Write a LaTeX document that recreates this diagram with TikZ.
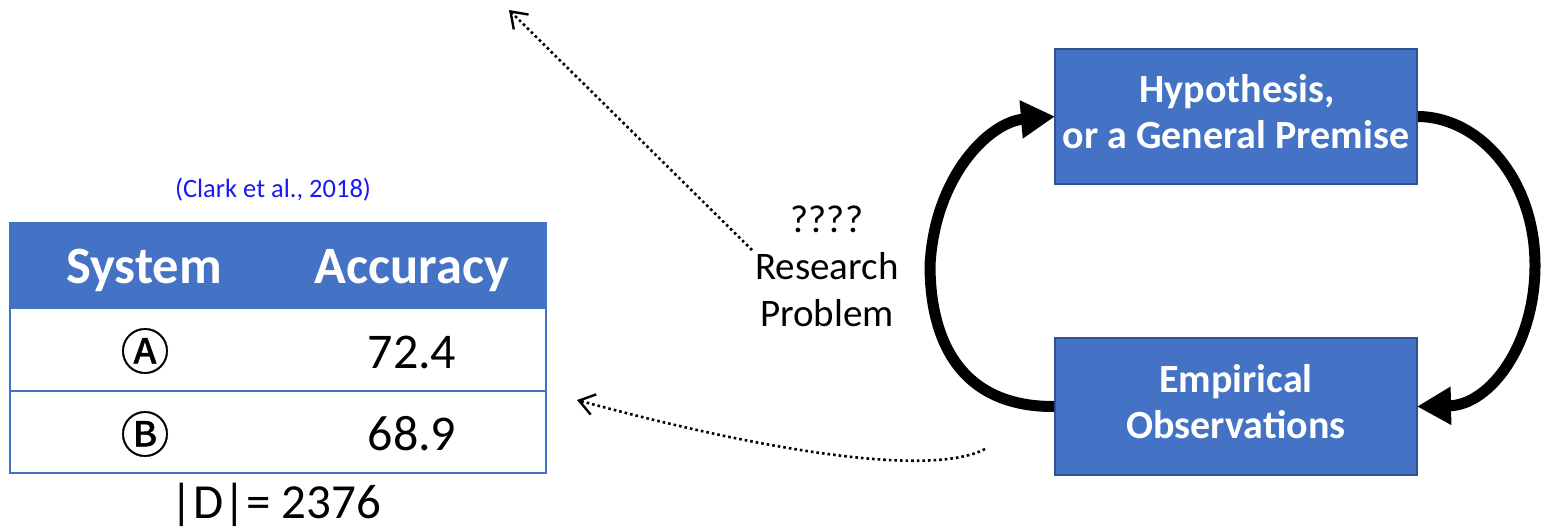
\documentclass[tikz,border=0pt]{standalone}
\usepackage{fontspec}
\setmainfont{Carlito}
\newfontfamily\circledfont{Noto Sans CJK SC}[FakeBold=0.8]
\usetikzlibrary{arrows.meta}
\definecolor{boxblue}{HTML}{4472C4}
\definecolor{boxedge}{HTML}{2F528F}
\definecolor{citeblue}{HTML}{1A1AF0}

\begin{document}
\begin{tikzpicture}[x=1pt,y=-1pt,
  every node/.style={inner sep=0pt, outer sep=0pt},
  stepbox/.style={draw=boxedge, line width=1.5pt, fill=boxblue,
    minimum width=362pt},
  boxtext/.style={text=white, font=\fontsize{40}{46}\selectfont\bfseries, anchor=base},
  cell/.style={draw=boxblue, line width=1.5pt, minimum width=536pt},
  headcell/.style={cell, fill=boxblue},
  headtext/.style={text=white, font=\fontsize{52.5}{60}\selectfont\bfseries, anchor=base},
  numtext/.style={font=\fontsize{50}{60}\selectfont, anchor=base},
  markertext/.style={font=\circledfont\fontsize{49}{54}\selectfont},
  plaintext/.style={font=\fontsize{39}{47}\selectfont, anchor=base},
  cycle/.style={line width=11pt, -{Triangle[length=34pt,width=36pt]}},
  hint/.style={line width=2.6pt, dash pattern=on 2.6pt off 3pt,
    -{Straight Barb[length=15pt,width=21pt,line width=2.4pt]}}
]
\useasboundingbox (0,0) rectangle (1541,530);

% ---- results table ----
\node[cell, minimum height=83pt] (row1) at (278,349.5) {};
\node[cell, minimum height=82pt] (row2) at (278,432) {};
\node[headcell, minimum height=85pt] (thead) at (278,265.5) {};
\node[headtext] (tsys) at (144,283) {System};
\node[headtext] (tacc) at (412,283) {Accuracy};
\node[markertext] (ma) at (145,351) {Ⓐ};
\node[markertext] (mb) at (145,434) {Ⓑ};
\node[numtext] (va) at (412,368) {72.4};
\node[numtext] (vb) at (412,450) {68.9};
\node[font=\fontsize{26.5}{31}\selectfont, text=citeblue, anchor=base] (cite) at (273,197) {(Clark et al., 2018)};
\node[font=\fontsize{49}{56}\selectfont, anchor=base] (dsize) at (276,518) {|D|= 2376};

% ---- research problem label ----
\node[plaintext] (rpq) at (827,232) {????};
\node[plaintext] (rpa) at (827,279) {Research};
\node[plaintext] (rpb) at (827,326.7) {Problem};

% ---- hypothesis / observation cycle ----
\node[stepbox, minimum height=135pt] (hyp) at (1236,116.5) {};
\node[stepbox, minimum height=137pt] (emp) at (1236,406.5) {};
\node[boxtext] (hypa) at (1237,102.5) {Hypothesis,};
\node[boxtext] (hypb) at (1236,148.5) {or a General Premise};
\node[boxtext] (empa) at (1236,392) {Empirical};
\node[boxtext] (empb) at (1236,438.7) {Observations};

\draw[cycle] ([xshift=-1pt]emp.west) .. controls (960,407) and (930,340) .. (930,265)
  .. controls (935,175) and (990,122) .. (hyp.west);
\draw[cycle] ([xshift=1pt]hyp.east) .. controls (1480,117) and (1535,180) .. (1535,265)
  .. controls (1535,345) and (1490,405) .. (emp.east);

% ---- dotted hints ----
\coordinate (upstart) at (752,250);
\coordinate (upend) at (509,10);
\coordinate (lowstart) at (985,449);
\coordinate (lowend) at (577,400);
\draw[hint] (upstart) -- (upend);
\draw[hint] (lowstart) .. controls (930,478) and (760,450) .. (lowend);
\end{tikzpicture}
\end{document}
